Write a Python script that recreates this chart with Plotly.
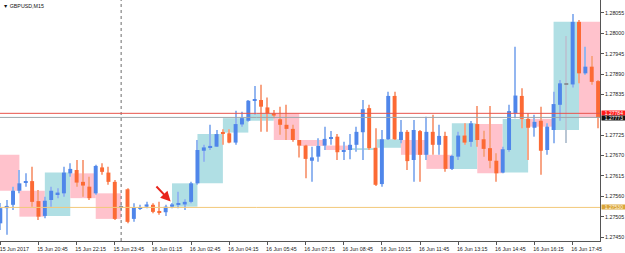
import numpy as np
import pandas as pd
import plotly.graph_objects as go

# ---------------- data (GBPUSD, M15) ----------------
start_time = "2017-06-15 19:00"
opens = [1.27672, 1.27487, 1.27528, 1.27537, 1.27575, 1.27597, 1.27601, 1.27547, 1.27507, 1.27550,
         1.27565, 1.27568, 1.27622, 1.27631, 1.27599, 1.27586, 1.27568, 1.27638, 1.27624, 1.27599,
         1.27530, 1.27579, 1.27499, 1.27528, 1.27532, 1.27537, 1.27518, 1.27517, 1.27532, 1.27538,
         1.27538, 1.27545, 1.27595, 1.27683, 1.27692, 1.27694, 1.27732, 1.27730, 1.27705, 1.27754,
         1.27764, 1.27818, 1.27820, 1.27800, 1.27784, 1.27768, 1.27753, 1.27742, 1.27712, 1.27697,
         1.27656, 1.27667, 1.27697, 1.27716, 1.27721, 1.27680, 1.27685, 1.27699, 1.27733, 1.27798,
         1.27691, 1.27593, 1.27714, 1.27831, 1.27712, 1.27734, 1.27658, 1.27736, 1.27672, 1.27734,
         1.27699, 1.27723, 1.27634, 1.27667, 1.27724, 1.27707, 1.27755, 1.27714, 1.27690, 1.27656,
         1.27624, 1.27685, 1.27784, 1.27831, 1.27769, 1.27745, 1.27764, 1.27685, 1.27739, 1.27807,
         1.27863, 1.27862, 1.28031, 1.27892, 1.27910, 1.27871]
highs = [1.27680, 1.27542, 1.27550, 1.27586, 1.27631, 1.27622, 1.27640, 1.27577, 1.27559, 1.27586,
         1.27582, 1.27640, 1.27649, 1.27658, 1.27658, 1.27613, 1.27645, 1.27649, 1.27640, 1.27604,
         1.27537, 1.27582, 1.27541, 1.27537, 1.27545, 1.27541, 1.27545, 1.27537, 1.27542, 1.27572,
         1.27552, 1.27599, 1.27712, 1.27699, 1.27753, 1.27739, 1.27741, 1.27741, 1.27791, 1.27788,
         1.27820, 1.27858, 1.27861, 1.27827, 1.27793, 1.27802, 1.27807, 1.27753, 1.27712, 1.27699,
         1.27694, 1.27717, 1.27748, 1.27736, 1.27728, 1.27707, 1.27728, 1.27748, 1.27820, 1.27807,
         1.27744, 1.27739, 1.27842, 1.27842, 1.27766, 1.27739, 1.27766, 1.27739, 1.27775, 1.27780,
         1.27753, 1.27734, 1.27672, 1.27734, 1.27757, 1.27763, 1.27804, 1.27737, 1.27804, 1.27676,
         1.27694, 1.27807, 1.27964, 1.27852, 1.27784, 1.27780, 1.27802, 1.27757, 1.27842, 1.27874,
         1.27993, 1.28052, 1.28036, 1.27964, 1.27939, 1.27874]
lows = [1.27480, 1.27469, 1.27456, 1.27523, 1.27568, 1.27586, 1.27532, 1.27496, 1.27501, 1.27532,
        1.27555, 1.27559, 1.27613, 1.27586, 1.27559, 1.27550, 1.27564, 1.27618, 1.27591, 1.27496,
        1.27523, 1.27487, 1.27491, 1.27523, 1.27528, 1.27514, 1.27510, 1.27507, 1.27528, 1.27528,
        1.27523, 1.27541, 1.27591, 1.27653, 1.27685, 1.27693, 1.27699, 1.27703, 1.27699, 1.27748,
        1.27761, 1.27780, 1.27734, 1.27734, 1.27771, 1.27726, 1.27712, 1.27707, 1.27665, 1.27609,
        1.27599, 1.27653, 1.27685, 1.27699, 1.27658, 1.27658, 1.27660, 1.27680, 1.27658, 1.27685,
        1.27588, 1.27586, 1.27712, 1.27712, 1.27703, 1.27631, 1.27599, 1.27599, 1.27658, 1.27672,
        1.27672, 1.27626, 1.27631, 1.27658, 1.27699, 1.27694, 1.27694, 1.27667, 1.27636, 1.27599,
        1.27622, 1.27680, 1.27771, 1.27744, 1.27658, 1.27721, 1.27618, 1.27672, 1.27703, 1.27764,
        1.27704, 1.27854, 1.27865, 1.27888, 1.27861, 1.27744]
closes = [1.27488, 1.27528, 1.27534, 1.27575, 1.27595, 1.27601, 1.27545, 1.27505, 1.27548, 1.27575,
          1.27570, 1.27624, 1.27634, 1.27597, 1.27589, 1.27555, 1.27642, 1.27626, 1.27599, 1.27499,
          1.27530, 1.27491, 1.27530, 1.27531, 1.27538, 1.27518, 1.27516, 1.27532, 1.27538, 1.27542,
          1.27545, 1.27595, 1.27685, 1.27692, 1.27696, 1.27728, 1.27729, 1.27705, 1.27755, 1.27771,
          1.27818, 1.27820, 1.27802, 1.27784, 1.27778, 1.27753, 1.27742, 1.27712, 1.27697, 1.27661,
          1.27665, 1.27696, 1.27715, 1.27718, 1.27679, 1.27685, 1.27699, 1.27734, 1.27795, 1.27690,
          1.27591, 1.27714, 1.27831, 1.27714, 1.27734, 1.27655, 1.27739, 1.27672, 1.27734, 1.27699,
          1.27723, 1.27634, 1.27669, 1.27724, 1.27705, 1.27757, 1.27712, 1.27688, 1.27656, 1.27622,
          1.27687, 1.27790, 1.27832, 1.27769, 1.27745, 1.27761, 1.27683, 1.27748, 1.27809, 1.27865,
          1.27863, 1.28031, 1.27892, 1.27910, 1.27869, 1.27773]

bid_price = 1.27773
ask_price = 1.27784
hline_price = 1.27530
y_tick_values = [1.28055, 1.28000, 1.27945, 1.27890, 1.27835,
                 1.27725, 1.27670, 1.27615, 1.27560, 1.27505, 1.27450]
symbol_title = "▼ GBPUSD,M15"

# ---------------- derived ----------------
o = np.array(opens); h = np.array(highs); l = np.array(lows); c = np.array(closes)
times = pd.date_range(start_time, periods=len(o), freq="15min")
idx = np.arange(len(o)) - 1          # bar 0 = 15 Jun 19:15

BULL, BEAR, DOJI = "#4f86ea", "#fc6a34", "#8c9096"
BULL_W, BEAR_W, DOJI_W = "#93b6f0", "#f8a585", "#b9c6d4"
BOX_UP, BOX_DN = "#b0dfe4", "#ffc2cc"

body_col = np.where(c > o, BULL, np.where(c < o, BEAR, DOJI))
wick_col = np.where(c > o, BULL_W, np.where(c < o, BEAR_W, DOJI_W))
body_base = np.minimum(o, c)
body_h = np.maximum(np.abs(c - o), 0.000025)

fig = go.Figure()
fig.add_trace(go.Bar(x=idx, base=l, y=h - l, width=0.16, marker_color=wick_col,
                     marker_line_width=0, hoverinfo="skip"))
fig.add_trace(go.Bar(x=idx, base=body_base, y=body_h, width=0.62, marker_color=body_col,
                     marker_line_width=0, hoverinfo="skip"))

# H1 boxes (open of first M15 bar to close of last M15 bar of each hour)
df = pd.DataFrame({"i": idx, "o": o, "c": c, "hour": times.floor("h")})
shapes = []
for hr, g in df.groupby("hour"):
    ho, hc = g["o"].iloc[0], g["c"].iloc[-1]
    x0 = g["i"].iloc[0]
    shapes.append(dict(type="rect", xref="x", yref="y", x0=x0, x1=x0 + 4,
                       y0=ho, y1=hc, fillcolor=BOX_UP if hc >= ho else BOX_DN,
                       line=dict(width=0), layer="below"))

# day separator
day_start = int(idx[np.argmax(times.normalize() > times[0].normalize())])
shapes.append(dict(type="line", xref="x", yref="paper", x0=day_start, x1=day_start, y0=0, y1=1,
                   line=dict(color="#6b6b6b", width=1, dash="dot")))
# price lines
shapes.append(dict(type="line", xref="paper", yref="y", x0=0, x1=1, y0=hline_price, y1=hline_price,
                   line=dict(color="#f2c879", width=1)))
shapes.append(dict(type="line", xref="paper", yref="y", x0=0, x1=1, y0=ask_price, y1=ask_price,
                   line=dict(color="#e8544c", width=1)))
shapes.append(dict(type="line", xref="paper", yref="y", x0=0, x1=1, y0=bid_price, y1=bid_price,
                   line=dict(color="#9ea6ab", width=1)))

tick_idx = [i for i in idx if i >= 0 and i % 6 == 0]
tick_txt = []
for i in tick_idx:
    t = times[i + 1]
    tick_txt.append(t.strftime("%d Jun %Y") if i == 0 else t.strftime("%d Jun %H:%M"))

FONT = "Liberation Sans"
annotations = [
    dict(xref="paper", yref="paper", x=0, y=1, xanchor="left", yanchor="top", xshift=1, yshift=-1,
         text=symbol_title, showarrow=False, font=dict(family=FONT, size=5.3, color="#111")),
    dict(x=27, y=h[28], xref="x", yref="y", ax=-17, ay=-18, showarrow=True, arrowhead=2,
         arrowsize=1, arrowwidth=2, arrowcolor="#e8251c", standoff=2, text=""),
]
for price, bg, fg, ys in [(ask_price, "#ff1a1a", "#ffffff", 0.7), (bid_price, "#111111", "#ffffff", -0.7),
                          (hline_price, "#d9a53a", "#fff8e0", 0)]:
    annotations.append(dict(xref="paper", yref="y", x=1, y=price, xanchor="left", yanchor="middle",
                            xshift=1, yshift=ys, text=f"{price:.5f}", showarrow=False, bgcolor=bg,
                            font=dict(family=FONT, size=5.0, color=fg), borderpad=0,
                            width=24, height=4.4))

fig.update_layout(
    width=625, height=253, margin=dict(l=0, r=25, t=0, b=12),
    paper_bgcolor="white", plot_bgcolor="white", showlegend=False,
    barmode="overlay", shapes=shapes, annotations=annotations,
    xaxis=dict(range=[-0.05, 94.3], showgrid=False, zeroline=False, showline=True,
               linecolor="#555", linewidth=1, ticks="outside", ticklen=3, tickcolor="#555",
               tickvals=tick_idx, ticktext=tick_txt, tickangle=0, ticklabelshift=14,
               ticklabeloverflow="allow",
               tickfont=dict(family=FONT, size=5.3, color="#222")),
    yaxis=dict(side="right", range=[1.274393, 1.28090], showgrid=False, zeroline=False,
               showline=True, linecolor="#555", linewidth=1, ticks="outside", ticklen=3,
               tickcolor="#555", tickvals=y_tick_values,
               ticktext=[f"{v:.5f}" for v in y_tick_values],
               tickfont=dict(family=FONT, size=5.3, color="#222")),
)

fig.write_html("out.html")
